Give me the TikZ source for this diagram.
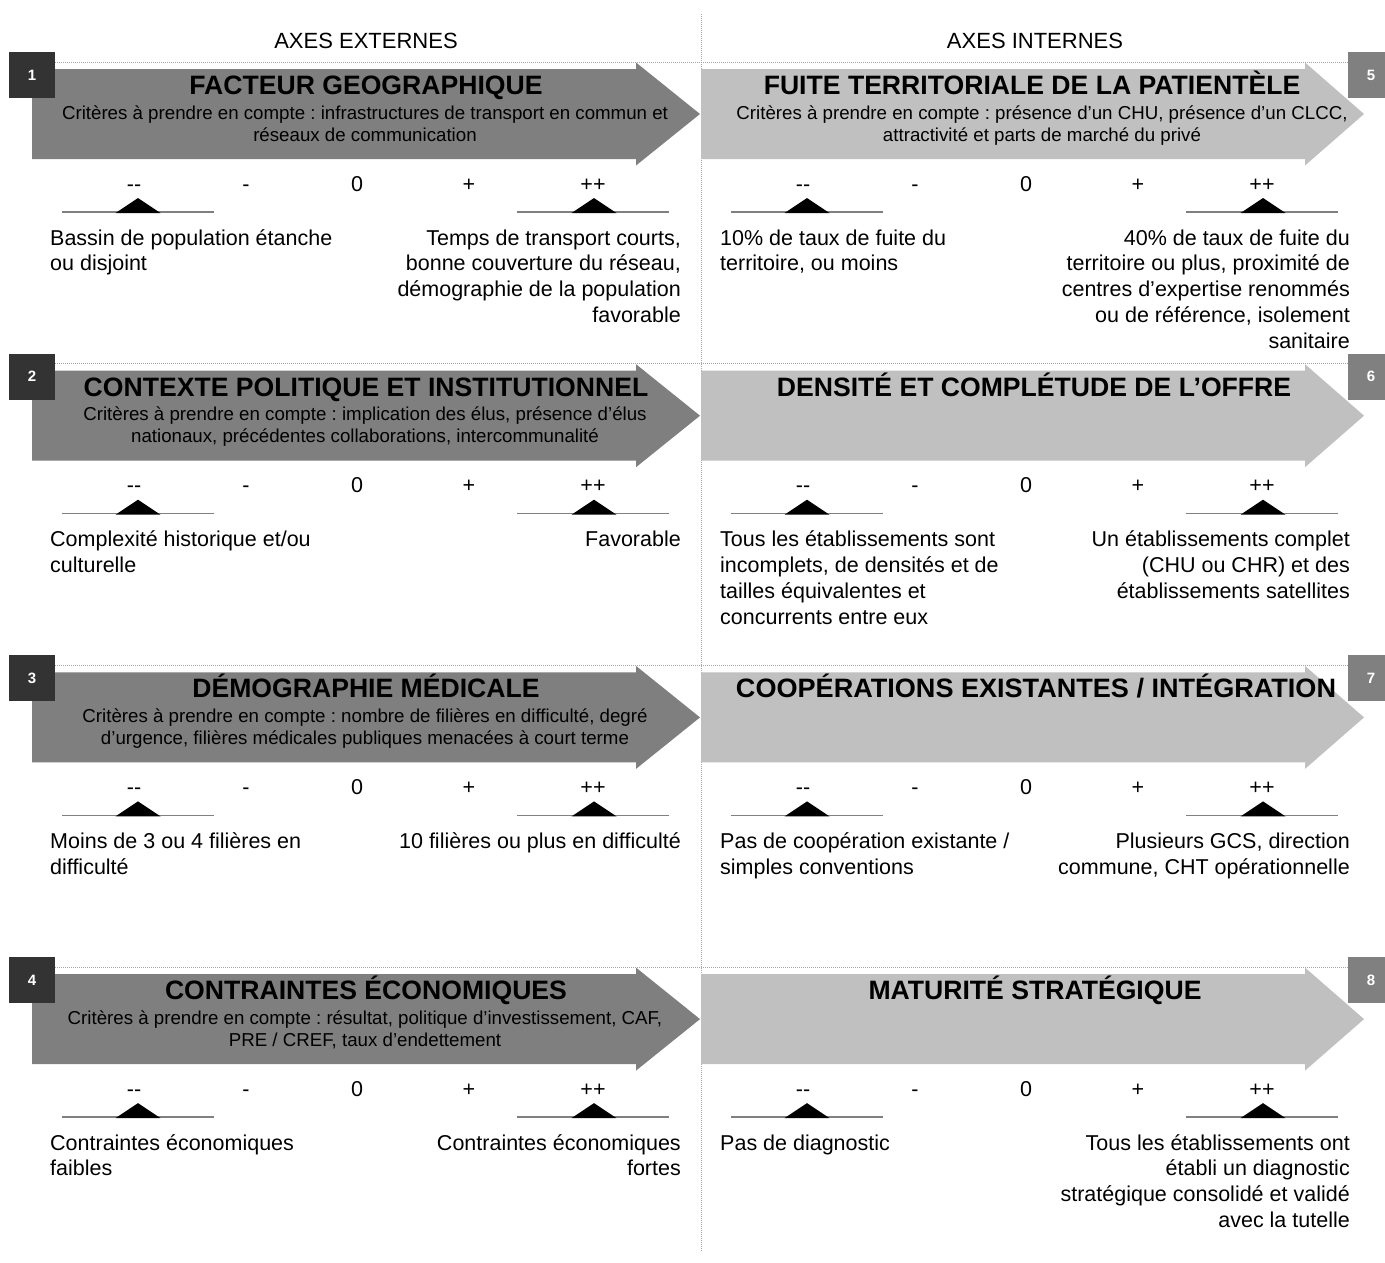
\documentclass[tikz,border=0pt]{standalone}
\usepackage{fontspec}
\setmainfont{Liberation Sans}
\newfontfamily\ttlfont{Liberation Sans Bold}
\usepackage{graphicx}
\definecolor{arrL}{HTML}{7F7F7F}
\definecolor{arrR}{HTML}{C0C0C0}
\definecolor{badL}{HTML}{333333}
\definecolor{badR}{HTML}{808080}
\definecolor{dotc}{HTML}{A6A6A6}
\definecolor{scl}{HTML}{808080}
\newcommand\ml[2]{\begin{tabular}[t]{@{}#1@{}}#2\end{tabular}}
\frenchspacing
\begin{document}
\begin{tikzpicture}[x=1pt,y=-1pt,
 hdr/.style={font=\fontsize{22}{26}\selectfont, inner sep=0, anchor=base},
 ttl/.style={font=\ttlfont\fontsize{26.6}{30}\selectfont, inner sep=0, anchor=base},
 sub/.style={font=\fontsize{18.7}{22}\selectfont, inner sep=0, anchor=base},
 lvl/.style={font=\fontsize{21.5}{26}\selectfont, inner sep=0, anchor=base},
 dl/.style={font=\fontsize{21.5}{25.8}\selectfont, inner sep=0, anchor=base west},
 dr/.style={font=\fontsize{21.5}{25.8}\selectfont, inner sep=0, anchor=base east},
 badgeL/.style={fill=badL, text=white, minimum size=46pt, inner sep=0, font=\bfseries\fontsize{15}{18}\selectfont},
 badgeR/.style={badgeL, fill=badR},
 dotl/.style={draw=dotc, line width=0.8pt, dash pattern=on 1pt off 1pt},
 sline/.style={draw=scl, line width=1.5pt},
]
\useasboundingbox (0,0) rectangle (1385,1262);
\clip (0,0) rectangle (1385,1262);
\fill[white] (0,0) rectangle (1385,1262);
\coordinate (vtop) at (701,14);
\coordinate (vbot) at (701,1252);
\draw[dotl] (vtop) -- (vbot);
\node[hdr] (hE) at (366,48) {AXES EXTERNES};
\node[hdr] (hI) at (1035,48) {AXES INTERNES};
\foreach \r in {0,1,2,3}{
  \pgfmathsetmacro\dy{301.7*\r}
  \coordinate (hl\r) at (55,62+\dy);
  \coordinate (hr\r) at (1348,62+\dy);
  \draw[dotl] (hl\r) -- (hr\r);
  \fill[arrL] (32,69+\dy) -- (636,69+\dy) -- (636,62.5+\dy) -- (700,114+\dy) -- (636,165.5+\dy) -- (636,159+\dy) -- (32,159+\dy) -- cycle;
  \fill[arrR] (701,69+\dy) -- (1305,69+\dy) -- (1305,62.5+\dy) -- (1364,114+\dy) -- (1305,165.5+\dy) -- (1305,159+\dy) -- (701,159+\dy) -- cycle;
  \pgfmathtruncatemacro\nL{\r+1}
  \pgfmathtruncatemacro\nR{\r+5}
  \node[badgeL] (bL\r) at (32,75+\dy) {\nL};
  \node[badgeR] (bR\r) at (1371,75+\dy) {\nR};
  \foreach \cx/\c in {0/a,669/b}{
    \node[lvl] (lv\r\c1) at (134+\cx,191+\dy) {-{}-};
    \node[lvl] (lv\r\c2) at (246+\cx,191+\dy) {-};
    \node[lvl] (lv\r\c3) at (357+\cx,191+\dy) {0};
    \node[lvl] (lv\r\c4) at (469+\cx,191+\dy) {+};
    \node[lvl] (lv\r\c5) at (593+\cx,191+\dy) {++};
    \draw[sline] (62+\cx,212+\dy) -- (214+\cx,212+\dy);
    \draw[sline] (517+\cx,212+\dy) -- (669+\cx,212+\dy);
    \fill (115.5+\cx,213+\dy) -- (138+\cx,198+\dy) -- (160.5+\cx,213+\dy) -- cycle;
    \fill (571.5+\cx,213+\dy) -- (594+\cx,198+\dy) -- (616.5+\cx,213+\dy) -- cycle;
  }
}
% Row 1
\node[ttl] (t1) at (366,94.5) {FACTEUR GEOGRAPHIQUE};
\node[sub] (s1) at (365,119) {\ml{c}{Critères à prendre en compte : infrastructures de transport en commun et\\réseaux de communication}};
\node[dl] (d1l) at (50,245) {\ml{l}{Bassin de population étanche\\ou disjoint}};
\node[dr] (d1r) at (681,245) {\ml{r}{Temps de transport courts,\\bonne couverture du réseau,\\démographie de la population\\favorable}};
\node[ttl] (t5) at (1032,94.5) {FUITE TERRITORIALE DE LA PATIENTÈLE};
\node[sub] (s5) at (1042,119) {\ml{c}{Critères à prendre en compte : présence d’un CHU, présence d’un CLCC,\\attractivité et parts de marché du privé}};
\node[dl] (d5l) at (720,245) {\ml{l}{10\% de taux de fuite du\\territoire, ou moins}};
\node[dr] (d5r) at (1350,245) {\ml{r}{40\% de taux de fuite du\\territoire ou plus, proximité de\\centres d’expertise renommés\\ou de référence, isolement\\sanitaire}};
% Row 2
\node[ttl] (t2) at (366,396.2) {CONTEXTE POLITIQUE ET INSTITUTIONNEL};
\node[sub] (s2) at (365,420.7) {\ml{c}{Critères à prendre en compte : implication des élus, présence d’élus\\nationaux, précédentes collaborations, intercommunalité}};
\node[dl] (d2l) at (50,546.7) {\ml{l}{Complexité historique et/ou\\culturelle}};
\node[dr] (d2r) at (681,546.7) {Favorable};
\node[ttl] (t6) at (1034,396.2) {DENSITÉ ET COMPLÉTUDE DE L’OFFRE};
\node[dl] (d6l) at (720,546.7) {\ml{l}{Tous les établissements sont\\incomplets, de densités et de\\tailles équivalentes et\\concurrents entre eux}};
\node[dr] (d6r) at (1350,546.7) {\ml{r}{Un établissements complet\\(CHU ou CHR) et des\\établissements satellites}};
% Row 3
\node[ttl] (t3) at (366,697.9) {DÉMOGRAPHIE MÉDICALE};
\node[sub] (s3) at (365,722.4) {\ml{c}{Critères à prendre en compte : nombre de filières en difficulté, degré\\d’urgence, filières médicales publiques menacées à court terme}};
\node[dl] (d3l) at (50,848.4) {\ml{l}{Moins de 3 ou 4 filières en\\difficulté}};
\node[dr] (d3r) at (681,848.4) {10 filières ou plus en difficulté};
\node[ttl] (t7) at (1036,697.9) {\resizebox{600pt}{\height}{COOPÉRATIONS EXISTANTES / INTÉGRATION}};
\node[dl] (d7l) at (720,848.4) {\ml{l}{Pas de coopération existante /\\simples conventions}};
\node[dr] (d7r) at (1350,848.4) {\ml{r}{Plusieurs GCS, direction\\commune, CHT opérationnelle}};
% Row 4
\node[ttl] (t4) at (366,999.6) {CONTRAINTES ÉCONOMIQUES};
\node[sub] (s4) at (365,1024.1) {\ml{c}{Critères à prendre en compte : résultat, politique d’investissement, CAF,\\PRE / CREF, taux d’endettement}};
\node[dl] (d4l) at (50,1150.1) {\ml{l}{Contraintes économiques\\faibles}};
\node[dr] (d4r) at (681,1150.1) {\ml{r}{Contraintes économiques\\fortes}};
\node[ttl] (t8) at (1035,999.6) {MATURITÉ STRATÉGIQUE};
\node[dl] (d8l) at (720,1150.1) {Pas de diagnostic};
\node[dr] (d8r) at (1350,1150.1) {\ml{r}{Tous les établissements ont\\établi un diagnostic\\stratégique consolidé et validé\\avec la tutelle}};
\end{tikzpicture}
\end{document}
